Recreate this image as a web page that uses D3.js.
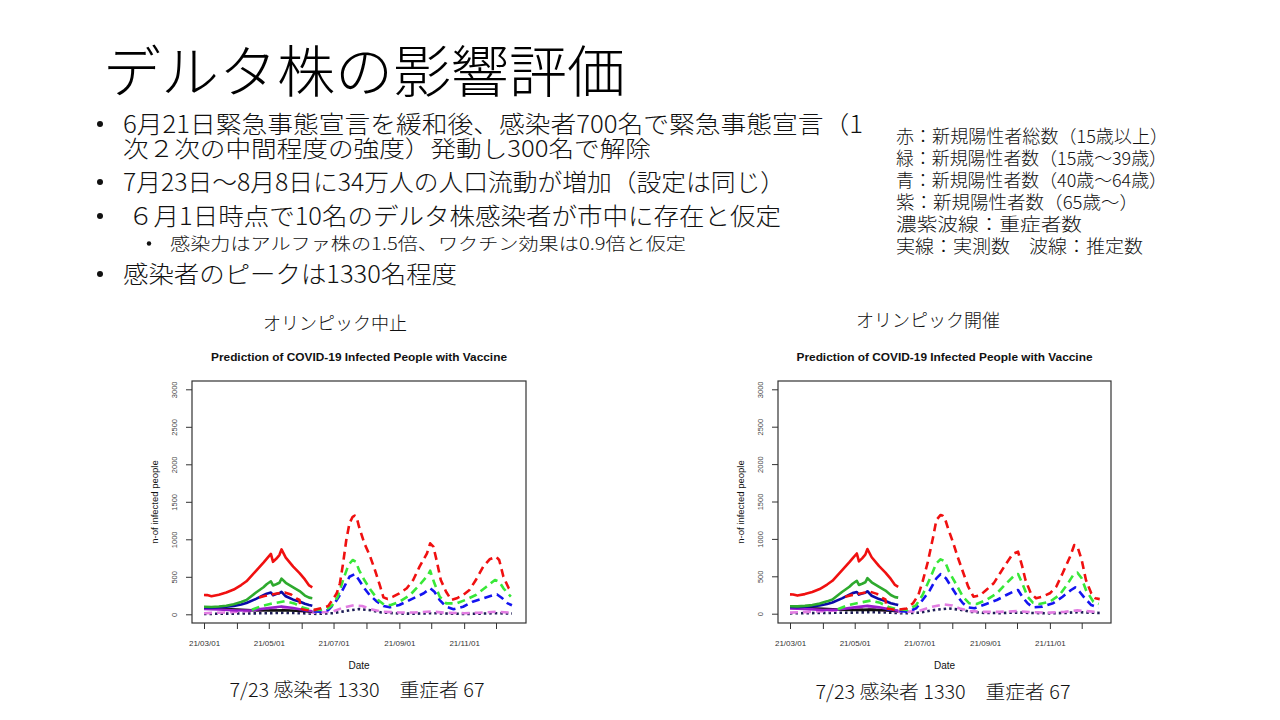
<!DOCTYPE html>
<html>
<head>
<meta charset="utf-8">
<script src="https://cdn.jsdelivr.net/npm/d3@7"></script>
<style>
  body { margin: 0; background: #fff; }
  svg { display: block; }
</style>
</head>
<body>
<svg id="slide" width="1280" height="720"></svg>
<script>
// ---- slide texts ----
var slideTitle = "デルタ株の影響評価";
var bulletLines = [
  "6月21日緊急事態宣言を緩和後、感染者700名で緊急事態宣言（1",
  "次２次の中間程度の強度）発動し300名で解除",
  "7月23日〜8月8日に34万人の人口流動が増加（設定は同じ）",
  "６月1日時点で10名のデルタ株感染者が市中に存在と仮定",
  "感染力はアルファ株の1.5倍、ワクチン効果は0.9倍と仮定",
  "感染者のピークは1330名程度"
];
var legendLines = [
  "赤：新規陽性者総数（15歳以上）",
  "緑：新規陽性者数（15歳〜39歳）",
  "青：新規陽性者数（40歳〜64歳）",
  "紫：新規陽性者数（65歳〜）",
  "濃紫波線：重症者数",
  "実線：実測数　波線：推定数"
];
var panelNames = ["オリンピック中止", "オリンピック開催"];
var panelNotes = ["7/23 感染者 1330　重症者 67", "7/23 感染者 1330　重症者 67"];

var chartTitle = "Prediction of COVID-19 Infected People with Vaccine";
var xTitle = "Date";
var yTitle = "n-of infected people";
var yTicks = [0, 500, 1000, 1500, 2000, 2500, 3000];

// ---- observed (same in both panels) ----
var redObs = [["2021-03-01",258],["2021-03-04",256],["2021-03-08",242],["2021-03-15",262],["2021-03-22",290],
  ["2021-03-29",330],["2021-04-05",390],["2021-04-10",440],["2021-04-19",580],["2021-04-26",690],["2021-04-29",740],
  ["2021-05-03",805],["2021-05-05",700],["2021-05-08",740],["2021-05-11",790],["2021-05-13",865],["2021-05-17",755],
  ["2021-05-24",635],["2021-05-30",550],["2021-06-04",465],["2021-06-08",385],["2021-06-11",360]];
var greenObs = [["2021-03-01",100],["2021-03-08",98],["2021-03-15",105],["2021-03-22",115],["2021-03-29",135],
  ["2021-04-05",165],["2021-04-10",190],["2021-04-19",290],["2021-04-26",360],["2021-04-29",400],["2021-05-03",440],
  ["2021-05-05",385],["2021-05-08",400],["2021-05-11",420],["2021-05-13",475],["2021-05-17",420],["2021-05-24",360],
  ["2021-05-30",310],["2021-06-04",250],["2021-06-08",222],["2021-06-11",215]];
var blueObs = [["2021-03-01",90],["2021-03-08",88],["2021-03-15",95],["2021-03-22",100],["2021-03-29",110],
  ["2021-04-05",130],["2021-04-10",150],["2021-04-19",205],["2021-04-26",255],["2021-04-29",275],["2021-05-03",290],
  ["2021-05-05",255],["2021-05-08",270],["2021-05-11",280],["2021-05-13",300],["2021-05-17",240],["2021-05-24",195],
  ["2021-05-30",170],["2021-06-04",140],["2021-06-08",125],["2021-06-11",115]];
var purpleObs = [["2021-03-01",70],["2021-03-15",65],["2021-04-01",50],["2021-04-15",55],["2021-05-01",85],
  ["2021-05-13",105],["2021-05-24",85],["2021-06-04",55],["2021-06-11",40]];
var blackObs = [["2021-03-01",80],["2021-03-15",75],["2021-04-01",65],["2021-04-15",55],["2021-05-01",50],
  ["2021-05-15",55],["2021-06-01",45],["2021-06-11",35]];

// ---- estimates, part before the panels differ ----
var redEstEarly = [["2021-04-22",225],["2021-04-27",245],["2021-05-03",262],["2021-05-10",280],["2021-05-16",292],
  ["2021-05-22",265],["2021-05-27",210],["2021-05-30",190],["2021-05-31",70],["2021-06-06",55],["2021-06-12",55]];
var greenEstEarly = [["2021-04-15",60],["2021-04-24",110],["2021-05-03",140],["2021-05-16",175],["2021-05-25",145],
  ["2021-06-02",90],["2021-06-10",60]];
var blueEstEarly = [["2021-05-31",60],["2021-06-10",40]];
var violetEstEarly = [["2021-03-01",15],["2021-03-20",25],["2021-04-10",40],["2021-05-01",60],["2021-05-15",70],
  ["2021-06-01",40],["2021-06-15",20]];
var severeEarly = [["2021-03-01",5],["2021-04-01",10],["2021-05-01",15],["2021-05-15",20],["2021-06-01",15],
  ["2021-06-15",5]];

// ---- estimates, Olympics cancelled ----
var redEstStop = [["2021-06-19",80],["2021-06-26",110],["2021-06-30",190],["2021-07-04",280],["2021-07-07",413],
  ["2021-07-10",680],["2021-07-13",990],["2021-07-16",1213],["2021-07-19",1300],["2021-07-21",1315],["2021-07-23",1280],
  ["2021-07-25",1168],["2021-07-30",946],["2021-08-04",790],["2021-08-09",590],["2021-08-14",368],["2021-08-17",226],
  ["2021-08-21",204],["2021-08-26",235],["2021-09-01",280],["2021-09-08",347],["2021-09-14",457],["2021-09-20",635],
  ["2021-09-27",813],["2021-09-30",946],["2021-10-03",902],["2021-10-06",724],["2021-10-10",457],["2021-10-15",301],
  ["2021-10-20",190],["2021-10-25",213],["2021-10-31",257],["2021-11-06",324],["2021-11-12",457],["2021-11-19",635],
  ["2021-11-25",733],["2021-12-01",768],["2021-12-04",724],["2021-12-08",501],["2021-12-13",347],["2021-12-16",301]];
var greenEstStop = [["2021-06-19",57],["2021-06-26",80],["2021-06-30",124],["2021-07-05",235],["2021-07-10",457],
  ["2021-07-15",657],["2021-07-19",724],["2021-07-22",702],["2021-07-25",590],["2021-07-30",457],["2021-08-05",324],
  ["2021-08-12",190],["2021-08-18",124],["2021-08-24",124],["2021-09-01",168],["2021-09-11",257],["2021-09-20",391],
  ["2021-09-28",524],["2021-09-30",581],["2021-10-04",413],["2021-10-09",235],["2021-10-15",146],["2021-10-25",146],
  ["2021-11-02",190],["2021-11-12",257],["2021-11-22",368],["2021-11-30",457],["2021-12-04",435],["2021-12-08",347],
  ["2021-12-15",235]];
var blueEstStop = [["2021-06-19",35],["2021-06-26",57],["2021-07-02",146],["2021-07-07",257],["2021-07-12",391],
  ["2021-07-16",501],["2021-07-21",537],["2021-07-25",457],["2021-07-30",347],["2021-08-04",257],["2021-08-11",168],
  ["2021-08-17",110],["2021-08-23",93],["2021-09-01",124],["2021-09-14",213],["2021-09-24",280],["2021-09-30",347],
  ["2021-10-04",301],["2021-10-09",190],["2021-10-15",101],["2021-10-22",67],["2021-10-31",101],["2021-11-09",168],
  ["2021-11-19",213],["2021-11-29",257],["2021-12-02",265],["2021-12-07",213],["2021-12-12",146],["2021-12-16",120]];
var violetEstStop = [["2021-07-01",40],["2021-07-10",90],["2021-07-20",120],["2021-07-28",110],["2021-08-05",70],
  ["2021-08-15",35],["2021-09-01",25],["2021-09-15",25],["2021-10-01",38],["2021-10-15",20],["2021-11-01",15],
  ["2021-11-15",20],["2021-12-01",35],["2021-12-16",20]];
var severeStop = [["2021-07-01",15],["2021-07-15",50],["2021-07-25",70],["2021-08-05",55],["2021-08-15",25],
  ["2021-09-01",10],["2021-09-15",8],["2021-10-01",15],["2021-10-15",10],["2021-11-01",5],["2021-11-15",8],
  ["2021-12-01",15],["2021-12-16",10]];

// ---- estimates, Olympics held ----
var redEstHeld = [["2021-06-19",70],["2021-06-25",139],["2021-06-30",250],["2021-07-04",428],["2021-07-09",695],
  ["2021-07-14",1029],["2021-07-17",1253],["2021-07-21",1320],["2021-07-23",1310],["2021-07-25",1275],["2021-07-28",1141],
  ["2021-08-02",941],["2021-08-06",762],["2021-08-11",561],["2021-08-16",361],["2021-08-21",227],["2021-08-27",244],
  ["2021-09-02",317],["2021-09-09",406],["2021-09-15",540],["2021-09-21",674],["2021-09-27",798],["2021-10-02",829],
  ["2021-10-06",628],["2021-10-09",450],["2021-10-14",273],["2021-10-19",206],["2021-10-25",227],["2021-11-01",273],
  ["2021-11-07",361],["2021-11-13",540],["2021-11-20",762],["2021-11-24",918],["2021-11-27",896],["2021-12-01",718],
  ["2021-12-05",450],["2021-12-10",273],["2021-12-14",206],["2021-12-18",195]];
var greenEstHeld = [["2021-06-20",49],["2021-06-28",116],["2021-07-04",250],["2021-07-11",473],["2021-07-17",674],
  ["2021-07-21",727],["2021-07-25",700],["2021-07-29",561],["2021-08-05",384],["2021-08-11",227],["2021-08-17",139],
  ["2021-08-24",130],["2021-09-02",183],["2021-09-12",273],["2021-09-21",406],["2021-09-29",517],["2021-10-02",530],
  ["2021-10-06",406],["2021-10-11",227],["2021-10-16",148],["2021-10-22",130],["2021-11-01",160],["2021-11-10",250],
  ["2021-11-17",384],["2021-11-23",517],["2021-11-27",548],["2021-12-01",473],["2021-12-05",317],["2021-12-12",160],
  ["2021-12-17",130]];
var blueEstHeld = [["2021-06-20",27],["2021-06-28",72],["2021-07-04",183],["2021-07-11",317],["2021-07-17",473],
  ["2021-07-21",530],["2021-07-26",473],["2021-07-31",361],["2021-08-05",250],["2021-08-11",139],["2021-08-16",85],
  ["2021-08-22",72],["2021-09-02",130],["2021-09-12",183],["2021-09-21",250],["2021-09-29",307],["2021-10-02",317],
  ["2021-10-06",227],["2021-10-11",139],["2021-10-16",85],["2021-10-25",94],["2021-11-04",139],["2021-11-13",227],
  ["2021-11-21",317],["2021-11-25",352],["2021-11-29",294],["2021-12-04",206],["2021-12-10",116],["2021-12-17",80]];
var violetEstHeld = [["2021-07-01",40],["2021-07-12",90],["2021-07-24",125],["2021-08-01",110],["2021-08-08",70],
  ["2021-08-18",35],["2021-09-01",25],["2021-09-15",25],["2021-10-01",35],["2021-10-15",20],["2021-11-01",15],
  ["2021-11-15",25],["2021-11-27",45],["2021-12-18",20]];
var severeHeld = [["2021-07-01",15],["2021-07-15",50],["2021-07-28",70],["2021-08-08",55],["2021-08-18",25],
  ["2021-09-01",10],["2021-09-15",8],["2021-10-01",15],["2021-10-15",10],["2021-11-01",5],["2021-11-15",10],
  ["2021-11-27",20],["2021-12-18",10]];

var parse = d3.timeParse("%Y-%m-%d");
var fmt = d3.timeFormat("%y/%m/%d");

var svg = d3.select("#slide");
svg.append("rect").attr("width", 1280).attr("height", 720).attr("fill", "#fff");

var jp = "'Noto Sans CJK JP', 'Noto Sans', sans-serif";
var lat = "'Liberation Sans', Arial, sans-serif";

// title
svg.append("text")
  .attr("x", 103).attr("y", 92)
  .attr("font-family", jp).attr("font-weight", 300)
  .attr("font-size", 56)
  .attr("textLength", 522).attr("lengthAdjust", "spacingAndGlyphs")
  .attr("fill", "#000")
  .text(slideTitle);

// bullets
var bl = [
  {x: 123, y: 133, s: 24, w: 740, dot: 100},
  {x: 123, y: 157, s: 23, w: 528, dot: null},
  {x: 123, y: 191, s: 24, w: 662, dot: 100},
  {x: 128, y: 225, s: 24, w: 653, dot: 100},
  {x: 170, y: 250, s: 17, w: 516, dot: 149},
  {x: 123, y: 283, s: 24, w: 334, dot: 100}
];
bulletLines.forEach(function(t, i) {
  var b = bl[i];
  svg.append("text")
    .attr("x", b.x).attr("y", b.y)
    .attr("font-family", jp).attr("font-weight", 300)
    .attr("font-size", b.s)
    .attr("textLength", b.w).attr("lengthAdjust", "spacingAndGlyphs")
    .attr("fill", "#111")
    .text(t);
  if (b.dot != null) {
    svg.append("circle")
      .attr("cx", b.dot).attr("cy", b.y - b.s * 0.38)
      .attr("r", b.s > 20 ? 3 : 2.2)
      .attr("fill", "#111");
  }
});

// colour legend text
var legW = [272, 271, 271, 242, 186, 247];
legendLines.forEach(function(t, i) {
  svg.append("text")
    .attr("x", 896).attr("y", 143 + i * 22)
    .attr("font-family", jp).attr("font-weight", 300)
    .attr("font-size", 18)
    .attr("textLength", legW[i]).attr("lengthAdjust", "spacingAndGlyphs")
    .attr("fill", "#111")
    .text(t);
});

var lineGen = function(x, y) {
  return d3.line()
    .x(function(d) { return x(parse(d[0])); })
    .y(function(d) { return y(d[1]); });
};

function drawPanel(p) {
  var g = svg.append("g");
  var x = d3.scaleTime()
    .domain([parse("2021-03-01"), parse("2021-12-01")])
    .range([p.x0, p.x1]);
  var y = d3.scaleLinear().domain([0, 3000]).range([p.y0, p.y1]);

  var months = d3.timeMonth.range(parse("2021-03-01"), parse("2021-12-02"));

  var xAxis = d3.axisBottom(x)
    .tickValues(months)
    .tickSize(6).tickPadding(11)
    .tickFormat(function(d) { return d.getMonth() % 2 === 0 ? fmt(d) : ""; });
  var yAxis = d3.axisLeft(y).tickValues(yTicks).tickSize(6).tickFormat(d3.format("d"));

  var gx = g.append("g")
    .attr("transform", "translate(0," + p.boxB + ")")
    .call(xAxis);
  gx.select(".domain").remove();
  gx.selectAll("line").attr("stroke", "#333");
  gx.selectAll("text").attr("font-family", lat).attr("font-size", 8).attr("fill", "#333");

  var gy = g.append("g")
    .attr("transform", "translate(" + p.boxL + ",0)")
    .call(yAxis);
  gy.select(".domain").remove();
  gy.selectAll("line").attr("stroke", "#333");
  gy.selectAll("text")
    .attr("x", 0).attr("dy", 0)
    .attr("text-anchor", "middle")
    .attr("transform", "translate(-15,0) rotate(-90)")
    .attr("font-family", lat).attr("font-size", 7.5).attr("fill", "#444");

  var line = lineGen(x, y);
  var lines = g.append("g").attr("fill", "none")
    .attr("stroke-linejoin", "round");

  p.series.forEach(function(s) {
    lines.append("path")
      .datum(s.data)
      .attr("d", line)
      .attr("stroke", s.color)
      .attr("stroke-width", 2.6)
      .attr("stroke-dasharray", s.dash || null);
  });

  g.append("rect")
    .attr("x", p.boxL).attr("y", p.boxT)
    .attr("width", p.boxR - p.boxL).attr("height", p.boxB - p.boxT)
    .attr("fill", "none").attr("stroke", "#333").attr("stroke-width", 1.2);

  var cx = (p.boxL + p.boxR) / 2;
  g.append("text")
    .attr("x", cx).attr("y", 361)
    .attr("text-anchor", "middle")
    .attr("font-family", lat).attr("font-weight", "bold").attr("font-size", 10)
    .attr("textLength", 296).attr("lengthAdjust", "spacingAndGlyphs")
    .attr("fill", "#111")
    .text(chartTitle);
  g.append("text")
    .attr("x", cx).attr("y", 669)
    .attr("text-anchor", "middle")
    .attr("font-family", lat).attr("font-size", 10).attr("fill", "#111")
    .text(xTitle);
  g.append("text")
    .attr("transform", "translate(" + (p.boxL - 34) + ",502) rotate(-90)")
    .attr("text-anchor", "middle")
    .attr("font-family", lat).attr("font-size", 9.5).attr("fill", "#111")
    .text(yTitle);

  g.append("text")
    .attr("x", p.nameX).attr("y", p.nameY)
    .attr("text-anchor", "middle")
    .attr("font-family", jp).attr("font-weight", 300).attr("font-size", 18)
    .attr("fill", "#111")
    .text(p.name);
  g.append("text")
    .attr("x", p.noteX).attr("y", p.noteY)
    .attr("text-anchor", "middle")
    .attr("font-family", jp).attr("font-weight", 300).attr("font-size", 19)
    .attr("textLength", 255).attr("lengthAdjust", "spacingAndGlyphs")
    .attr("fill", "#111")
    .text(p.note);
}

var DASH = "8,5", DOT = "2.5,3";
function seriesFor(redE, greenE, blueE, violetE, severe) {
  return [
    {data: severeEarly.concat(severe), color: "#1c1c55", dash: DOT},
    {data: violetEstEarly.concat(violetE), color: "#e27de2", dash: DASH},
    {data: blackObs, color: "#111111"},
    {data: purpleObs, color: "#9a1ccc"},
    {data: blueEstEarly.concat(blueE), color: "#1414f0", dash: DASH},
    {data: greenEstEarly.concat(greenE), color: "#38e838", dash: DASH},
    {data: blueObs, color: "#0a0aa8"},
    {data: redEstEarly.concat(redE), color: "#f01010", dash: DASH},
    {data: greenObs, color: "#2eaa2e"},
    {data: redObs, color: "#f01010"}
  ];
}

drawPanel({
  boxL: 192, boxR: 526, boxT: 381, boxB: 623,
  x0: 204, x1: 496, y0: 614.3, y1: 389.3,
  name: panelNames[0], nameX: 335, nameY: 330,
  note: panelNotes[0], noteX: 357, noteY: 697,
  series: seriesFor(redEstStop, greenEstStop, blueEstStop, violetEstStop, severeStop)
});
drawPanel({
  boxL: 778, boxR: 1111, boxT: 381, boxB: 623,
  x0: 790, x1: 1081.7, y0: 613.7, y1: 389.3,
  name: panelNames[1], nameX: 928, nameY: 327,
  note: panelNotes[1], noteX: 943, noteY: 699,
  series: seriesFor(redEstHeld, greenEstHeld, blueEstHeld, violetEstHeld, severeHeld)
});
</script>
</body>
</html>
